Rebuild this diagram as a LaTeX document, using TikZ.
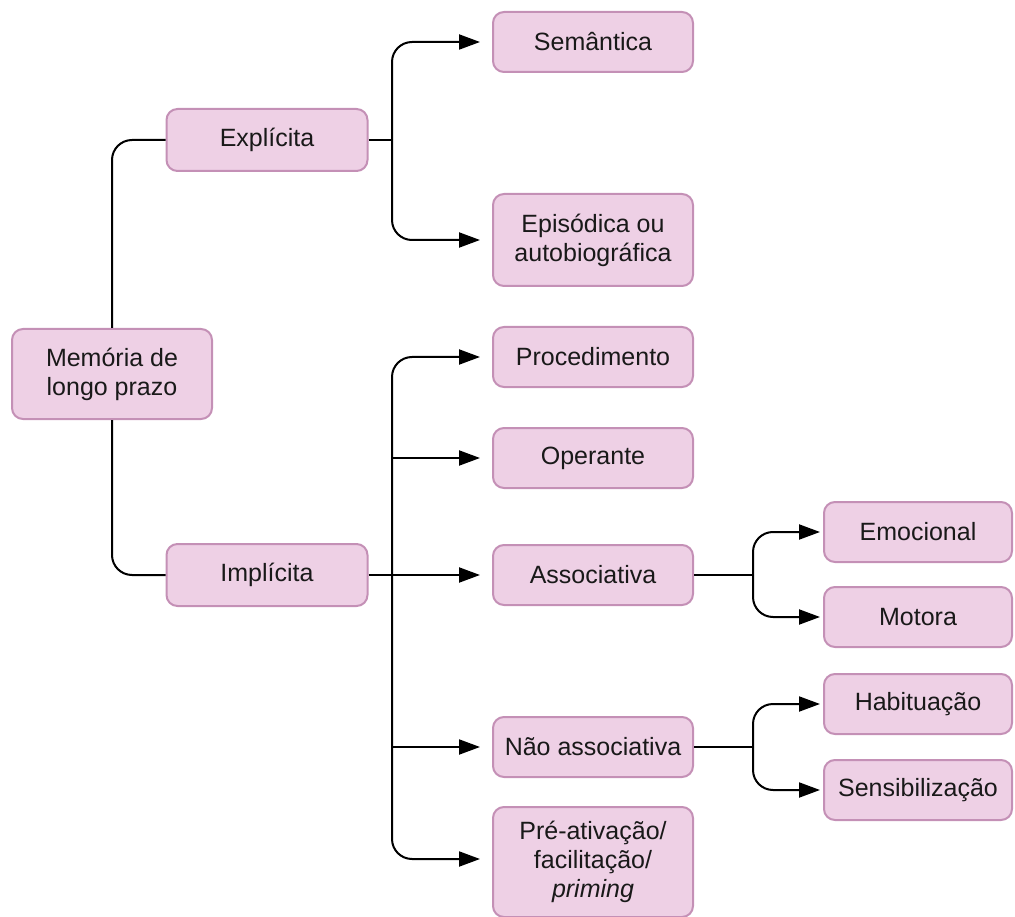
\documentclass[tikz,border=0pt]{standalone}
\usepackage{fontspec}
\setmainfont{Liberation Sans}
\usetikzlibrary{arrows.meta}
\definecolor{boxfill}{RGB}{238,208,229}
\definecolor{boxline}{RGB}{196,144,182}
\tikzset{
  box/.style={draw=boxline, fill=boxfill, line width=2pt, rounded corners=11pt,
    minimum width=200pt, minimum height=60pt, inner sep=0pt, align=center,
    font=\fontsize{25}{29}\selectfont, text=black!90},
  sbox/.style={box, minimum width=188pt},
  conn/.style={line width=2pt, black, rounded corners=20pt},
  arr/.style={conn, -{Triangle[length=21pt,width=15pt]}, shorten >=12pt},
  sarr/.style={conn, -{Triangle[length=21pt,width=15pt]}, shorten >=3pt}
}
\begin{document}
\begin{tikzpicture}[x=1pt,y=-1pt]
\useasboundingbox (0,0) rectangle (1015,917);
\node[box, minimum height=90pt] (mem) at (112,374) {Memória de\\longo prazo};
\node[box, minimum width=201pt, minimum height=62pt] (exp) at (267,140) {Explícita};
\node[box, minimum width=201pt, minimum height=62pt] (imp) at (267,575) {Implícita};
\node[box] (sem) at (593,42) {Semântica};
\node[box, minimum height=92pt] (epi) at (593,240) {Episódica ou\\autobiográfica};
\node[box] (pro) at (593,357) {Procedimento};
\node[box] (ope) at (593,458) {Operante};
\node[box] (ass) at (593,575) {Associativa};
\node[box] (nao) at (593,747) {Não associativa};
\node[box, minimum height=110pt] (pre) at (593,862) {Pré-ativação/\\facilitação/\\\textit{priming}};
\node[sbox] (emo) at (918,532) {Emocional};
\node[sbox] (mot) at (918,617) {Motora};
\node[sbox] (hab) at (918,704) {Habituação};
\node[sbox] (sen) at (918,790) {Sensibilização};

\coordinate (t1) at (392,140);
\coordinate (t2) at (392,575);
\coordinate (t3) at (753,575);
\coordinate (t4) at (753,747);

\draw[conn] (mem.north) |- (exp.west);
\draw[conn] (mem.south) |- (imp.west);

\draw[conn] (exp.east) -- (t1);
\draw[arr] (t1) |- (sem.west);
\draw[arr] (t1) |- (epi.west);

\draw[arr] (imp.east) -- (ass.west);
\draw[arr] (t2) |- (pro.west);
\draw[arr] (t2 |- ope.west) -- (ope.west);
\draw[arr] (t2 |- nao.west) -- (nao.west);
\draw[arr] (t2) |- ([yshift=3pt]pre.west);

\draw[conn] (ass.east) -- (t3);
\draw[sarr] (t3) |- (emo.west);
\draw[sarr] (t3) |- (mot.west);

\draw[conn] (nao.east) -- (t4);
\draw[sarr] (t4) |- (hab.west);
\draw[sarr] (t4) |- (sen.west);
\end{tikzpicture}
\end{document}
